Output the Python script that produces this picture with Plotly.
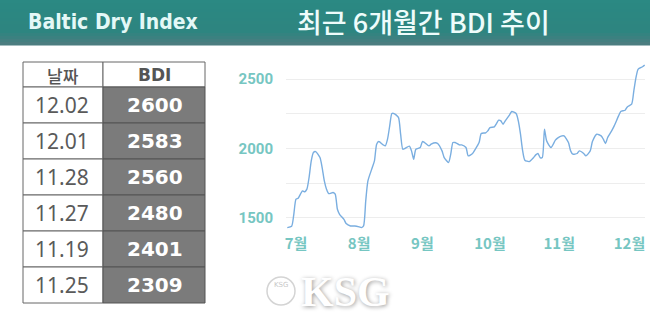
import plotly.graph_objects as go

# ---------------- data ----------------
dates = [
    "2021-06-27", "2021-06-29", "2021-06-30", "2021-07-01", "2021-07-02", "2021-07-04",
    "2021-07-05", "2021-07-06", "2021-07-07", "2021-07-08", "2021-07-09", "2021-07-10",
    "2021-07-12", "2021-07-13", "2021-07-14", "2021-07-15", "2021-07-16", "2021-07-18",
    "2021-07-19", "2021-07-20", "2021-07-21", "2021-07-23", "2021-07-24", "2021-07-26",
    "2021-07-28", "2021-07-30", "2021-07-31", "2021-08-01", "2021-08-02", "2021-08-03",
    "2021-08-05", "2021-08-06", "2021-08-07", "2021-08-08", "2021-08-10", "2021-08-11",
    "2021-08-12", "2021-08-13", "2021-08-14", "2021-08-15", "2021-08-17", "2021-08-18",
    "2021-08-19", "2021-08-20", "2021-08-22", "2021-08-23", "2021-08-24", "2021-08-25",
    "2021-08-27", "2021-08-28", "2021-08-29", "2021-08-31", "2021-09-01", "2021-09-03",
    "2021-09-04", "2021-09-06", "2021-09-07", "2021-09-09", "2021-09-10", "2021-09-11",
    "2021-09-12", "2021-09-14", "2021-09-15", "2021-09-17", "2021-09-18", "2021-09-20",
    "2021-09-21", "2021-09-23", "2021-09-24", "2021-09-26", "2021-09-27", "2021-09-28",
    "2021-09-30", "2021-10-01", "2021-10-02", "2021-10-03", "2021-10-04", "2021-10-05",
    "2021-10-07", "2021-10-08", "2021-10-10", "2021-10-11", "2021-10-12", "2021-10-13",
    "2021-10-14", "2021-10-16", "2021-10-18", "2021-10-19", "2021-10-20", "2021-10-21",
    "2021-10-22", "2021-10-23", "2021-10-24", "2021-10-26", "2021-10-28", "2021-10-29",
    "2021-10-31", "2021-11-01", "2021-11-03", "2021-11-04", "2021-11-05", "2021-11-07",
    "2021-11-08", "2021-11-10", "2021-11-11", "2021-11-13", "2021-11-14", "2021-11-16",
    "2021-11-18", "2021-11-19", "2021-11-20", "2021-11-21", "2021-11-23", "2021-11-24",
    "2021-11-26", "2021-11-27", "2021-11-29", "2021-11-30", "2021-12-02", "2021-12-03",
    "2021-12-04", "2021-12-05", "2021-12-07", "2021-12-08",
]
bdi_values = [
    1430, 1440, 1526, 1635, 1642, 1695,
    1688, 1707, 1791, 1911, 1971, 1978,
    1935, 1863, 1767, 1707, 1675, 1683,
    1671, 1562, 1526, 1490, 1459, 1442,
    1442, 1435, 1430, 1442, 1623, 1767,
    1863, 1911, 2031, 2050, 2026, 2019,
    2067, 2163, 2252, 2252, 2224, 2103,
    1995, 2000, 2017, 1983, 1923, 1995,
    2007, 2050, 2043, 2019, 2031, 2041,
    2036, 1983, 1935, 1899, 1959, 2043,
    2043, 2026, 2026, 2007, 1947, 1964,
    1988, 2043, 2108, 2113, 2127, 2151,
    2156, 2180, 2204, 2199, 2175, 2199,
    2243, 2267, 2252, 2199, 2103, 1983,
    1916, 1906, 1935, 1954, 1964, 1935,
    1935, 2139, 2055, 2007, 2060, 2075,
    2091, 2091, 2043, 1983, 1959, 1964,
    1983, 1964, 1947, 1983, 2050, 2103,
    2091, 2067, 2036, 2079, 2132, 2163,
    2235, 2267, 2276, 2300, 2320, 2416,
    2512, 2572, 2589, 2601,
]

month_tick_dates = ["2021-07-01", "2021-07-30", "2021-08-28",
                    "2021-09-28", "2021-10-29 18:00", "2021-12-01"]
month_tick_labels = ["7월", "8월", "9월", "10월", "11월", "12월"]

y_tick_vals = [1500, 2000, 2500]
y_tick_labels = ["1500", "2000", "2500"]

table_dates = ["12.02", "12.01", "11.28", "11.27", "11.19", "11.25"]
table_bdi = ["2600", "2583", "2560", "2480", "2401", "2309"]
table_headers = ["날짜", "BDI"]

title_left = "Baltic Dry Index"
title_right = "최근 6개월간 BDI 추이"

# ---------------- figure ----------------
W, H = 650, 320
TEAL = "#76c6c2"


def px(x):
    return x / W


def py(y):
    return 1 - y / H


fig = go.Figure()

fig.add_trace(go.Scatter(
    x=dates, y=bdi_values, mode="lines",
    line=dict(color="#7aaee0", width=1.4, shape="spline", smoothing=0.6),
    hoverinfo="skip", showlegend=False, cliponaxis=False,
))

# header band (vertical gradient in bands)
top = (43, 137, 131)
mid = (46, 133, 128)
bot = (88, 122, 128)
band_edges = list(range(0, 48, 3))
for i in range(len(band_edges) - 1):
    y0, y1 = band_edges[i], band_edges[i + 1]
    t = y0 / 47
    if t < 0.65:
        f = t / 0.65
        c = tuple(int(top[k] + (mid[k] - top[k]) * f) for k in range(3))
    else:
        f = (t - 0.65) / 0.35
        c = tuple(int(mid[k] + (bot[k] - mid[k]) * f) for k in range(3))
    fig.add_shape(type="rect", xref="paper", yref="paper",
                  x0=0, x1=1, y0=py(y1 + 0.5), y1=py(y0),
                  fillcolor="rgb(%d,%d,%d)" % c, line_width=0, layer="below")

fig.add_annotation(x=px(113), y=py(22), xref="paper", yref="paper",
                   text=title_left, showarrow=False, xanchor="center", yanchor="middle",
                   font=dict(family="DejaVu Sans Condensed, DejaVu Sans, sans-serif",
                             size=21, color="#e4f8f7", weight="bold"))
fig.add_annotation(x=px(424), y=py(22), xref="paper", yref="paper",
                   text=title_right, showarrow=False, xanchor="center", yanchor="middle",
                   font=dict(family="Noto Sans CJK KR", size=27, color="#eefcfb", weight=500))

# ---------------- table (built from shapes + text) ----------------
col_x = [23, 103, 205]
head_top, head_bot = 62, 87
row_h = 36
LINE = "#666666"

# header cells
for j, txt in enumerate(table_headers):
    fig.add_shape(type="rect", xref="paper", yref="paper",
                  x0=px(col_x[j]), x1=px(col_x[j + 1]), y0=py(head_bot), y1=py(head_top),
                  fillcolor="white", line=dict(color=LINE, width=1))
    fig.add_annotation(x=px((col_x[j] + col_x[j + 1]) / 2), y=py((head_top + head_bot) / 2 + 0.5),
                       xref="paper", yref="paper", text=txt, showarrow=False,
                       xanchor="center", yanchor="middle",
                       font=dict(family="Noto Sans CJK KR" if j == 0 else "DejaVu Sans",
                                 size=17, color="#555555",
                                 weight=500 if j == 0 else "bold"))

# body cells
for i, (d, v) in enumerate(zip(table_dates, table_bdi)):
    y0 = head_bot + i * row_h
    y1 = y0 + row_h
    fig.add_shape(type="rect", xref="paper", yref="paper",
                  x0=px(col_x[0]), x1=px(col_x[1]), y0=py(y1), y1=py(y0),
                  fillcolor="white", line=dict(color=LINE, width=1))
    fig.add_shape(type="rect", xref="paper", yref="paper",
                  x0=px(col_x[1]), x1=px(col_x[2]), y0=py(y1), y1=py(y0),
                  fillcolor="#7b7b7b", line=dict(color="#555555", width=1))
    fig.add_annotation(x=px((col_x[0] + col_x[1]) / 2 - 1), y=py((y0 + y1) / 2),
                       xref="paper", yref="paper", text=d, showarrow=False,
                       xanchor="center", yanchor="middle",
                       font=dict(family="Noto Sans", size=21, color="#5a5a5a"))
    fig.add_annotation(x=px((col_x[1] + col_x[2]) / 2 + 1), y=py((y0 + y1) / 2),
                       xref="paper", yref="paper", text=v, showarrow=False,
                       xanchor="center", yanchor="middle",
                       font=dict(family="DejaVu Sans", size=20, color="white", weight="bold"))

# ---------------- KSG watermark ----------------
fig.add_shape(type="circle", xref="paper", yref="paper",
              x0=px(267), x1=px(295), y0=py(305), y1=py(277),
              line=dict(color="#d4d4d4", width=1.5), fillcolor="rgba(0,0,0,0)")
fig.add_annotation(x=px(281), y=py(291), xref="paper", yref="paper",
                   text="KSG", showarrow=False,
                   font=dict(family="DejaVu Sans", size=7, color="#c8c8c8"))
fig.add_annotation(x=px(345), y=py(292), xref="paper", yref="paper",
                   text="KSG", showarrow=False, xanchor="center", yanchor="middle",
                   font=dict(family="Liberation Serif", size=42, color="#ffffff",
                             weight="bold", shadow="1px 1px 4px #9a9a9a"))

fig.update_layout(
    width=W, height=H,
    margin=dict(l=0, r=0, t=0, b=0),
    paper_bgcolor="white", plot_bgcolor="white",
    showlegend=False,
    xaxis=dict(
        domain=[px(286), px(645)],
        type="date",
        range=["2021-06-26 10:00", "2021-12-08 03:00"],
        tickvals=month_tick_dates, ticktext=month_tick_labels,
        showgrid=False, zeroline=False, showline=False, ticks="",
        tickfont=dict(family="Noto Sans CJK KR", size=15, color=TEAL, weight="bold"),
        ticklabelstandoff=4,
        fixedrange=True,
    ),
    yaxis=dict(
        domain=[py(229), py(59)],
        range=[1420, 2645],
        tickvals=y_tick_vals, ticktext=y_tick_labels,
        showgrid=True, gridcolor="#ededed", gridwidth=1,
        minor=dict(dtick=250, tick0=1500, showgrid=True, gridcolor="#ededed", gridwidth=1),
        zeroline=False, showline=False, ticks="",
        tickfont=dict(family="Roboto", size=15, color=TEAL, weight="bold"),
        ticklabelstandoff=12,
        fixedrange=True,
    ),
)

fig.write_html("out.html")
